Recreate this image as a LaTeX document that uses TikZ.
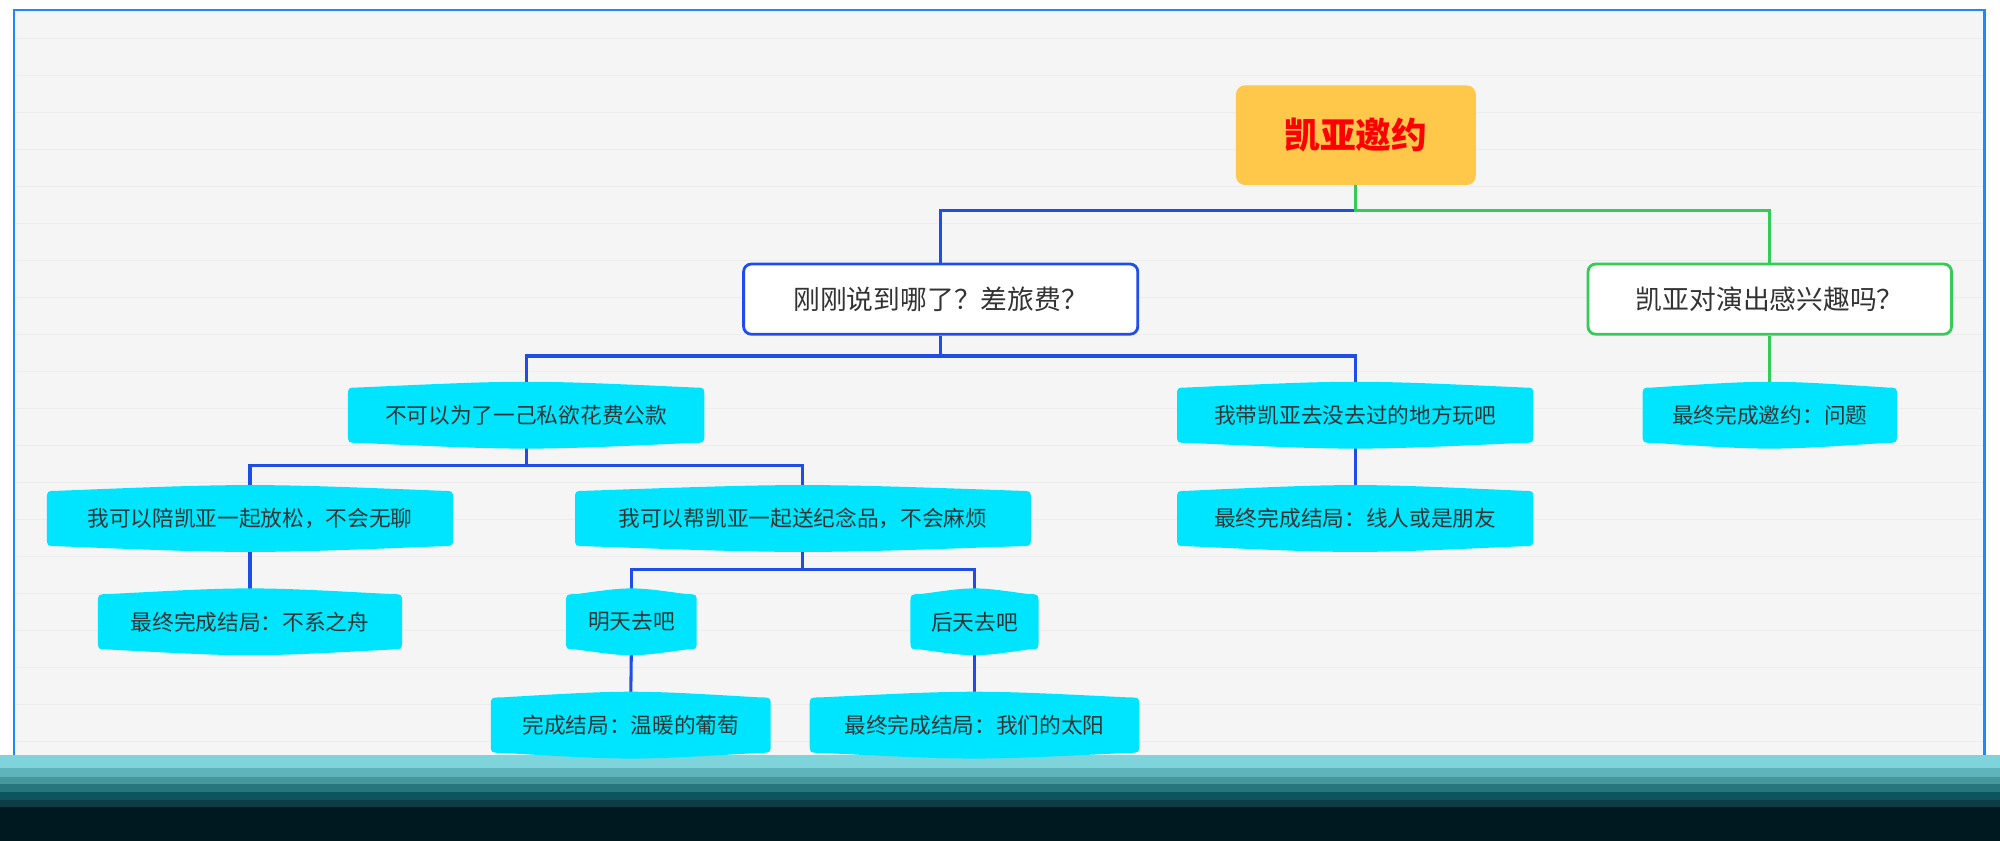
\documentclass[tikz,border=0pt]{standalone}
\usepackage{fontspec}
\setmainfont{Noto Sans CJK SC}
\usetikzlibrary{calc}
\definecolor{leafc}{HTML}{00E5FF}
\definecolor{bl}{HTML}{1F4EE6}
\definecolor{gr}{HTML}{33CC55}
\definecolor{frm}{HTML}{1E88FF}
\definecolor{txt}{HTML}{333333}
\definecolor{rootc}{HTML}{FFC84A}
\definecolor{bA}{HTML}{7FD4DC}
\definecolor{bB}{HTML}{5FB3BA}
\definecolor{bC}{HTML}{44979D}
\definecolor{bD}{HTML}{25777D}
\definecolor{bE}{HTML}{0B555E}
\definecolor{bF}{HTML}{0D3C44}
\definecolor{bG}{HTML}{001820}
\tikzset{
  leaf/.style={minimum height=41pt,inner sep=0pt,font=\fontsize{17pt}{20pt}\selectfont,text=txt},
  topic/.style={draw,line width=2.2pt,rounded corners=6pt,fill=white,minimum height=55pt,inner sep=0pt,font=\fontsize{21pt}{24pt}\selectfont,text=txt},
  bline/.style={bl,line width=2.4pt},
  gline/.style={gr,line width=2.4pt},
}
\newcommand{\leafbg}[1]{%
  \fill[leafc] ([yshift=-6pt]#1.north west) .. controls ([yshift=1pt]#1.north west) .. ([xshift=8pt,yshift=1pt]#1.north west)
   .. controls ([yshift=7pt]#1.north) .. ([xshift=-8pt,yshift=1pt]#1.north east)
   .. controls ([yshift=1pt]#1.north east) .. ([yshift=-6pt]#1.north east)
   -- ([yshift=6pt]#1.south east) .. controls ([yshift=-1pt]#1.south east) .. ([xshift=-8pt,yshift=-1pt]#1.south east)
   .. controls ([yshift=-7pt]#1.south) .. ([xshift=8pt,yshift=-1pt]#1.south west)
   .. controls ([yshift=-1pt]#1.south west) .. ([yshift=6pt]#1.south west) -- cycle;}
\begin{document}
\begin{tikzpicture}[x=1pt,y=-1pt]
\useasboundingbox (0,0) rectangle (1568,659);
\fill[white] (0,0) rectangle (1568,659);
\fill[black!4] (11,8) rectangle (1556,600);
\foreach \yy in {30,59,...,590} \draw[black!7,line width=0.8pt] (11,\yy) -- (1556,\yy);
\draw[frm,line width=2pt] (11,600) -- (11,8) -- (1556,8) -- (1556,600);
% bottom band
\fill[bA] (0,592) rectangle (1568,602);
\fill[bB] (0,602) rectangle (1568,609);
\fill[bC] (0,609) rectangle (1568,615);
\fill[bD] (0,615) rectangle (1568,621);
\fill[bE] (0,621) rectangle (1568,627);
\fill[bF] (0,627) rectangle (1568,633);
\fill[bG] (0,633) rectangle (1568,659);
% nodes
\node[fill=rootc,rounded corners=7pt,minimum width=188pt,minimum height=78pt,text=red,font=\fontsize{28pt}{32pt}\selectfont\bfseries] (root) at (1063,106) {凯亚邀约};
\node[topic,draw=bl,minimum width=309pt] (a) at (737.5,234.5) {刚刚说到哪了？差旅费？};
\node[topic,draw=gr,minimum width=285pt] (b) at (1387.5,234.5) {凯亚对演出感兴趣吗？};
\node[leaf,minimum width=279pt] (a1) at (412.5,325.5) {};
\node[leaf,minimum width=279pt] (a2) at (1062.5,325.5) {};
\node[leaf,minimum width=199pt] (b1) at (1387.5,325.5) {};
\node[leaf,minimum width=318pt] (a11) at (196,406.5) {};
\node[leaf,minimum width=357pt] (a12) at (629.5,406.5) {};
\node[leaf,minimum width=279pt] (a21) at (1062.5,406.5) {};
\node[leaf,minimum width=238pt] (a111) at (196,487.5) {};
\node[leaf,minimum width=102pt] (m) at (495,487.5) {};
\node[leaf,minimum width=100pt] (h) at (764,487.5) {};
\node[leaf,minimum width=219pt] (m1) at (494.5,568.5) {};
\node[leaf,minimum width=258pt] (h1) at (764,568.5) {};
% connectors
\draw[bline] (root.south) -- ++(0,20) -| (a.north);
\draw[gline] (root.south) -- ++(0,20) -| (b.north);
\draw[bline] (a.south) -- ++(0,16) -| (a1.north);
\draw[bline] (a.south) -- ++(0,16) -| (a2.north);
\draw[gline] (b.south) -- (b1.north);
\draw[bline] (a1.south) -- ++(0,19) -| (a11.north);
\draw[bline] (a1.south) -- ++(0,19) -| (a12.north);
\draw[bline] (a2.south) -- (a21.north);
\draw[bline] (a11.south) -- (a111.north);
\draw[bline] (a12.south) -- ++(0,19) -| (m.north);
\draw[bline] (a12.south) -- ++(0,19) -| (h.north);
\draw[bline] (m.south) -- (m1.north);
\draw[bline] (h.south) -- (h1.north);
% leaf backgrounds and texts on top
\foreach \n in {a1,a2,b1,a11,a12,a21,a111,m,h,m1,h1} {\leafbg{\n}}
\node[leaf] at (a1) {不可以为了一己私欲花费公款};
\node[leaf] at (a2) {我带凯亚去没去过的地方玩吧};
\node[leaf] at (b1) {最终完成邀约：问题};
\node[leaf] at (a11) {我可以陪凯亚一起放松，不会无聊};
\node[leaf] at (a12) {我可以帮凯亚一起送纪念品，不会麻烦};
\node[leaf] at (a21) {最终完成结局：线人或是朋友};
\node[leaf] at (a111) {最终完成结局：不系之舟};
\node[leaf] at (m) {明天去吧};
\node[leaf] at (h) {后天去吧};
\node[leaf] at (m1) {完成结局：温暖的葡萄};
\node[leaf] at (h1) {最终完成结局：我们的太阳};
\end{tikzpicture}
\end{document}
